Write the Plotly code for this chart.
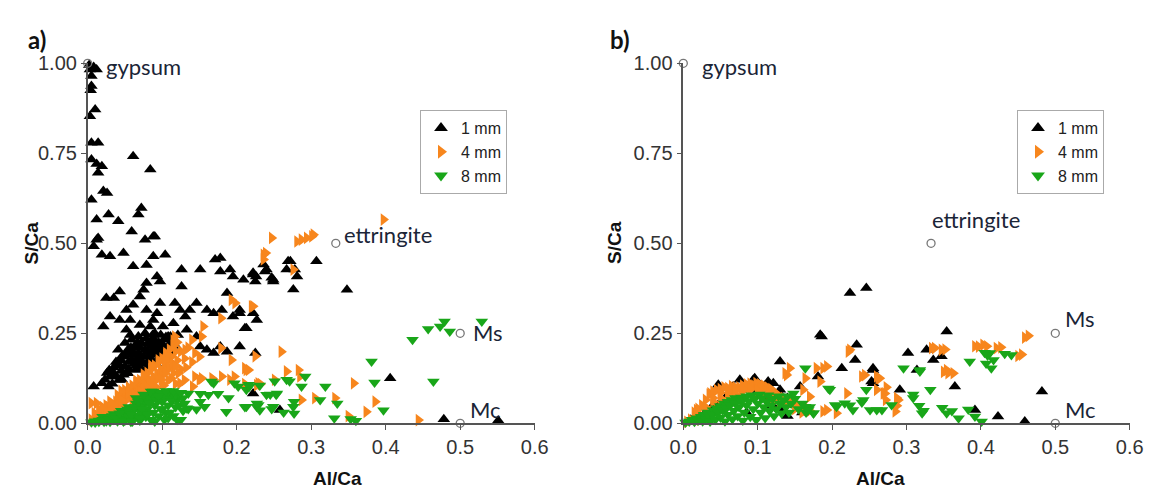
import plotly.graph_objects as go

# ---------------- data: panel a ----------------
A1_X = [0.002,0.008,0.003,0.012,0.005,0.005,0.004,0.010,0.003,0.005,0.014,0.061,0.005,0.019,0.012,0.014,0.084,0.021,0.026,0.005,
        0.012,0.028,0.041,0.068,0.072,0.059,0.012,0.077,0.088,0.008,0.014,0.019,0.030,0.048,0.061,0.079,0.088,0.090,0.093,0.097,
        0.104,0.126,0.126,0.151,0.171,0.178,0.178,0.191,0.195,0.209,0.222,0.226,0.240,0.249,0.269,0.267,0.276,
        0.025,0.035,0.043,0.052,0.061,0.075,0.079,0.070,0.079,0.088,0.093,0.097,0.101,0.021,0.030,0.043,0.057,0.070,0.084,0.052,
        0.117,0.124,0.131,0.137,0.146,0.160,0.169,0.180,0.187,0.195,0.204,0.213,0.222,0.227,0.204,0.187,0.178,0.160,0.169,0.151,
        0.133,0.146,0.115,0.111,
        0.023,0.029,0.041,0.046,0.050,0.054,0.059,0.064,0.068,0.072,0.077,0.081,0.086,0.090,0.095,0.099,0.104,0.108,0.064,0.072,
        0.081,0.037,0.046,0.054,0.086,0.099,0.068,0.059,0.050,0.041,0.028,0.019,0.008,0.077,0.090,0.108,0.113,
        0.060,0.070,0.080,0.090,0.100,0.055,0.065,0.075,0.085,0.095,0.045,0.035,0.030,0.105,0.112,
        0.035,0.040,0.045,0.050,0.055,0.060,0.065,0.070,0.075,0.080,0.085,0.090,0.095,0.100,0.105,0.110,0.038,0.048,0.058,0.068,
        0.078,0.088,0.098,0.108,0.042,0.052,0.062,0.072,0.082,0.092,0.102,0.033,0.026,0.057,0.067,0.087,0.097,0.115,0.118,0.121,
        0.222,0.225,0.236,0.238,0.247,0.249,0.272,0.278,0.281,0.307,0.348,0.204,0.211,0.225,0.222,0.258,0.406,0.478,0.551]
A1_Y = [0.995,0.990,0.983,0.983,0.965,0.937,0.925,0.872,0.853,0.779,0.779,0.742,0.733,0.714,0.720,0.696,0.705,0.645,0.640,0.621,
        0.566,0.580,0.561,0.580,0.598,0.533,0.510,0.510,0.519,0.492,0.515,0.468,0.464,0.473,0.436,0.440,0.464,0.519,0.408,0.394,
        0.468,0.427,0.380,0.427,0.455,0.459,0.422,0.427,0.408,0.399,0.418,0.408,0.427,0.399,0.450,0.427,0.372,
        0.348,0.348,0.366,0.315,0.329,0.371,0.390,0.352,0.315,0.287,0.306,0.334,0.269,0.269,0.297,0.287,0.287,0.273,0.269,0.260,
        0.334,0.315,0.297,0.315,0.334,0.315,0.306,0.315,0.362,0.297,0.315,0.264,0.306,0.287,0.213,0.199,0.213,0.204,0.195,0.213,
        0.260,0.241,0.278,0.241,
        0.121,0.148,0.167,0.186,0.158,0.204,0.176,0.213,0.195,0.223,0.204,0.186,0.232,0.213,0.204,0.223,0.232,0.213,0.148,0.167,
        0.158,0.130,0.121,0.139,0.176,0.186,0.241,0.232,0.223,0.204,0.102,0.111,0.102,0.250,0.250,0.241,0.227,
        0.190,0.180,0.200,0.190,0.200,0.170,0.160,0.185,0.215,0.225,0.145,0.155,0.130,0.195,0.205,
        0.140,0.160,0.175,0.185,0.150,0.200,0.175,0.210,0.165,0.220,0.195,0.230,0.180,0.215,0.240,0.220,0.170,0.135,0.210,0.190,
        0.235,0.205,0.245,0.200,0.120,0.195,0.165,0.150,0.175,0.165,0.180,0.110,0.140,0.245,0.225,0.245,0.195,0.235,0.215,0.245,
        0.413,0.394,0.441,0.422,0.404,0.394,0.450,0.427,0.408,0.450,0.371,0.306,0.264,0.195,0.083,0.037,0.125,0.011,0.008]

A4_X = [0.005,0.010,0.012,0.015,0.018,0.020,0.022,0.025,0.028,0.030,0.030,0.033,0.035,0.038,0.040,0.040,0.043,0.045,0.048,0.050,
        0.050,0.053,0.055,0.058,0.060,0.060,0.063,0.065,0.068,0.070,0.070,0.073,0.075,0.078,0.080,0.080,0.083,0.085,0.088,0.090,
        0.090,0.093,0.095,0.098,0.100,0.100,0.103,0.105,0.108,0.110,0.112,0.115,0.118,0.120,0.115,0.025,0.015,0.012,0.009,0.005,
        0.020,0.025,0.030,0.035,0.040,0.045,0.050,0.055,0.060,0.065,0.070,0.075,0.080,0.085,0.090,0.095,0.100,0.105,0.110,0.115,
        0.120,0.125,0.130,0.135,0.140,0.150,0.125,0.130,0.045,0.055,0.065,0.075,0.085,0.095,0.105,0.115,0.062,0.072,0.082,0.092,
        0.102,0.112,0.122,0.132,0.108,0.118,
        0.193,0.198,0.179,0.220,0.117,0.140,0.153,0.155,0.131,0.144,0.113,0.104,0.117,0.179,0.193,0.211,0.225,0.229,0.144,0.153,
        0.167,0.180,0.104,0.099,0.247,0.281,0.287,0.294,0.301,0.397,0.236,0.239,0.236,0.276,0.222,0.260,0.216,0.232,0.211,0.283,
        0.285,0.251,0.357,0.287,0.305,0.332,0.374,0.386,0.350,0.444,0.124,0.141,0.150,0.169,0.191,0.197,0.213,0.227,0.267,0.303]
A4_Y = [0.010,0.015,0.022,0.012,0.030,0.020,0.038,0.028,0.045,0.035,0.022,0.055,0.042,0.060,0.050,0.035,0.068,0.055,0.075,0.062,
        0.045,0.080,0.070,0.088,0.075,0.058,0.095,0.082,0.100,0.090,0.070,0.108,0.095,0.115,0.102,0.085,0.122,0.110,0.130,0.118,
        0.095,0.140,0.125,0.150,0.135,0.110,0.160,0.145,0.175,0.155,0.185,0.165,0.200,0.175,0.140,0.050,0.040,0.056,0.028,0.056,
        0.045,0.032,0.060,0.050,0.078,0.065,0.092,0.085,0.105,0.112,0.120,0.128,0.140,0.150,0.160,0.170,0.180,0.195,0.205,0.215,
        0.225,0.200,0.180,0.210,0.170,0.185,0.150,0.120,0.090,0.100,0.118,0.135,0.160,0.175,0.190,0.230,0.080,0.085,0.095,0.100,
        0.105,0.125,0.140,0.155,0.120,0.110,
        0.343,0.334,0.292,0.325,0.241,0.232,0.241,0.269,0.204,0.195,0.167,0.176,0.158,0.209,0.176,0.153,0.186,0.111,0.130,0.125,
        0.125,0.130,0.139,0.121,0.515,0.505,0.510,0.515,0.519,0.566,0.468,0.473,0.455,0.427,0.325,0.199,0.148,0.109,0.109,0.148,
        0.130,0.121,0.111,0.065,0.070,0.070,0.032,0.060,0.020,0.009,0.111,0.102,0.121,0.121,0.121,0.130,0.148,0.106,0.144,0.524]

A8_X = [0.005,0.010,0.015,0.020,0.025,0.030,0.030,0.035,0.040,0.040,0.045,0.050,0.050,0.055,0.060,0.060,0.065,0.068,0.070,0.072,
        0.075,0.078,0.080,0.082,0.085,0.088,0.090,0.092,0.095,0.098,0.100,0.100,0.103,0.105,0.108,0.110,0.112,0.115,0.118,0.120,
        0.122,0.125,0.128,0.045,0.055,0.065,0.075,0.085,0.095,0.088,0.020,0.035,0.058,0.070,0.108,
        0.010,0.015,0.022,0.028,0.033,0.038,0.043,0.048,0.053,0.058,0.063,0.068,0.073,0.078,0.083,0.088,0.093,0.098,0.103,0.108,
        0.113,0.118,0.123,0.128,0.060,0.070,0.080,0.090,0.100,0.110,0.120,0.130,0.065,0.075,0.085,0.095,0.105,0.115,0.125,0.135,
        0.133,0.146,0.151,0.162,0.169,0.186,0.197,0.213,0.227,0.240,0.253,0.267,0.249,0.276,0.213,0.166,0.202,0.216,0.151,0.175,
        0.189,0.157,0.229,0.135,0.217,0.231,0.251,0.271,0.292,0.287,0.319,0.254,0.245,0.277,0.211,0.227,0.231,0.247,0.263,0.277,
        0.312,0.335,0.331,0.353,0.360,0.381,0.385,0.397,0.464,0.436,0.457,0.473,0.479,0.486,0.529]
A8_Y = [0.003,0.006,0.004,0.010,0.006,0.015,0.004,0.010,0.020,0.006,0.014,0.026,0.008,0.018,0.032,0.010,0.022,0.040,0.008,0.030,
        0.050,0.018,0.040,0.060,0.010,0.030,0.050,0.070,0.020,0.040,0.060,0.080,0.010,0.030,0.050,0.070,0.085,0.020,0.045,0.065,
        0.080,0.010,0.035,0.035,0.045,0.055,0.065,0.075,0.085,0.088,0.018,0.026,0.004,0.045,0.015,
        0.002,0.008,0.004,0.012,0.020,0.015,0.028,0.005,0.038,0.025,0.045,0.060,0.040,0.070,0.055,0.078,0.065,0.085,0.072,0.088,
        0.062,0.080,0.050,0.070,0.005,0.015,0.025,0.005,0.040,0.030,0.010,0.055,0.070,0.080,0.088,0.075,0.090,0.090,0.085,0.040,
        0.042,0.039,0.060,0.079,0.111,0.032,0.111,0.093,0.046,0.079,0.079,0.121,0.046,0.046,0.046,0.116,0.102,0.107,0.082,0.082,
        0.070,0.046,0.051,0.083,0.102,0.105,0.117,0.117,0.130,0.102,0.102,0.083,0.080,0.060,0.045,0.055,0.036,0.040,0.030,0.027,
        0.065,0.055,0.014,0.012,0.007,0.172,0.113,0.036,0.116,0.232,0.262,0.269,0.283,0.255,0.283]

# ---------------- data: panel b ----------------
B1_X = [0.047,0.076,0.096,0.114,0.121,0.130,0.184,0.186,0.224,0.246,0.233,0.213,0.231,0.255,0.181,0.157,0.253,0.302,0.327,0.336,
        0.347,0.354,0.365,0.291,0.314,0.392,0.423,0.459,0.482,0.130,0.143,0.067,0.094,0.255,0.255,
        0.110,0.120,0.130,0.140,0.110,0.120,0.130,0.150,0.100,0.090,0.060,0.050,0.040,0.030,0.020,0.010,0.160,0.140,0.085]
B1_Y = [0.107,0.121,0.125,0.116,0.111,0.172,0.246,0.241,0.362,0.376,0.218,0.153,0.176,0.153,0.130,0.102,0.116,0.195,0.204,0.176,
        0.186,0.255,0.102,0.093,0.148,0.037,0.019,0.005,0.088,0.093,0.065,0.102,0.121,0.148,0.111,
        0.105,0.090,0.080,0.070,0.070,0.050,0.040,0.050,0.090,0.100,0.080,0.060,0.050,0.030,0.020,0.010,0.030,0.020,0.030]

B4_X = [0.005,0.010,0.015,0.018,0.020,0.022,0.025,0.030,0.030,0.035,0.036,0.040,0.045,0.045,0.050,0.052,0.055,0.058,0.060,0.063,
        0.065,0.068,0.070,0.072,0.075,0.078,0.080,0.083,0.085,0.088,0.090,0.093,0.095,0.098,0.100,0.103,0.105,0.108,0.110,0.113,
        0.115,0.118,0.120,0.123,0.125,0.128,0.130,0.135,0.140,0.145,0.150,0.155,0.160,0.165,0.170,0.025,0.040,0.050,0.060,0.070,
        0.030,0.040,0.050,0.060,0.070,0.080,0.090,0.100,0.110,0.120,0.130,0.140,0.150,
        0.139,0.164,0.188,0.224,0.240,0.260,0.262,0.273,0.287,0.285,0.188,0.170,0.206,0.184,0.161,0.260,0.338,0.347,0.350,0.354,
        0.392,0.403,0.421,0.459,0.450,0.334,0.352,0.356,0.363,0.397,0.408,0.427,0.464,0.455,0.244,0.264,0.271,0.289,0.287,
        0.137,0.143,0.179,0.193,0.222,0.220,0.193,0.269,0.272]
B4_Y = [0.004,0.010,0.030,0.037,0.040,0.010,0.050,0.065,0.018,0.080,0.083,0.088,0.092,0.035,0.095,0.045,0.100,0.052,0.098,0.085,
        0.103,0.092,0.100,0.075,0.100,0.088,0.105,0.095,0.108,0.100,0.110,0.098,0.105,0.112,0.100,0.108,0.095,0.105,0.090,0.100,
        0.085,0.095,0.075,0.085,0.065,0.078,0.055,0.070,0.050,0.060,0.040,0.050,0.030,0.045,0.035,0.020,0.060,0.070,0.065,0.080,
        0.045,0.070,0.085,0.088,0.090,0.095,0.095,0.090,0.080,0.070,0.065,0.060,0.055,
        0.134,0.125,0.153,0.204,0.130,0.130,0.125,0.100,0.070,0.033,0.033,0.074,0.028,0.116,0.093,0.093,0.209,0.204,0.143,0.148,
        0.214,0.218,0.209,0.238,0.187,0.209,0.205,0.139,0.139,0.213,0.214,0.211,0.243,0.191,0.134,0.125,0.083,0.065,0.049,
        0.139,0.153,0.153,0.158,0.199,0.083,0.037,0.083,0.065]

B8_X = [0.003,0.008,0.012,0.015,0.018,0.020,0.024,0.026,0.028,0.030,0.033,0.035,0.036,0.040,0.040,0.043,0.045,0.047,0.050,0.050,
        0.053,0.055,0.056,0.058,0.060,0.060,0.063,0.065,0.066,0.068,0.070,0.070,0.073,0.075,0.078,0.078,0.080,0.082,0.085,0.085,
        0.088,0.090,0.092,0.094,0.096,0.098,0.100,0.102,0.104,0.106,0.108,0.110,0.112,0.114,0.116,0.118,0.120,0.122,0.125,0.128,
        0.130,0.132,0.135,0.138,0.140,0.142,0.145,0.150,0.155,0.160,0.165,0.170,0.148,
        0.164,0.195,0.197,0.204,0.217,0.228,0.240,0.246,0.251,0.267,0.280,0.296,0.309,0.318,0.332,0.321,0.354,0.370,0.385,0.392,
        0.401,0.412,0.417,0.414,0.441,0.164,0.175,0.318,0.309,0.317,0.323,0.348,0.361,0.383,0.405,0.409,0.407,0.432,
        0.175,0.168,0.206,0.224,0.242,0.260]
B8_Y = [0.002,0.005,0.010,0.004,0.014,0.008,0.018,0.006,0.024,0.012,0.030,0.018,0.005,0.036,0.024,0.010,0.042,0.030,0.048,0.016,
        0.036,0.055,0.006,0.042,0.060,0.024,0.050,0.065,0.012,0.035,0.070,0.055,0.020,0.045,0.072,0.060,0.008,0.030,0.075,0.050,
        0.062,0.018,0.078,0.040,0.068,0.010,0.055,0.080,0.030,0.070,0.045,0.015,0.060,0.078,0.035,0.050,0.068,0.020,0.040,0.075,
        0.055,0.028,0.065,0.045,0.075,0.030,0.055,0.068,0.040,0.055,0.030,0.045,0.083,
        0.153,0.097,0.093,0.051,0.056,0.037,0.058,0.093,0.037,0.037,0.051,0.153,0.070,0.148,0.093,0.028,0.028,0.014,0.172,0.019,
        0.005,0.195,0.176,0.153,0.190,0.046,0.028,0.144,0.080,0.049,0.035,0.043,0.034,0.038,0.196,0.188,0.166,0.193,
        0.028,0.037,0.046,0.050,0.065,0.037]

REF_X = [0.0, 0.333, 0.5, 0.5]
REF_Y = [1.0, 0.5, 0.25, 0.0]
SERIES = ["1 mm", "4 mm", "8 mm"]

BLACK = "#000000"
ORANGE = "#f7861d"
GREEN = "#19a619"
MSIZE = 11

fig = go.Figure()

def add_panel(xa, ya, leg, data):
    syms = ["triangle-up", "triangle-right", "triangle-down"]
    cols = [BLACK, ORANGE, GREEN]
    for (xs, ys), name, sym, col in zip(data, SERIES, syms, cols):
        fig.add_trace(go.Scatter(
            x=xs, y=ys, mode="markers", name=name, legend=leg,
            xaxis=xa, yaxis=ya, cliponaxis=False,
            marker=dict(symbol=sym, size=MSIZE, color=col, line=dict(width=0))))
    fig.add_trace(go.Scatter(
        x=REF_X, y=REF_Y, mode="markers", showlegend=False, xaxis=xa, yaxis=ya,
        cliponaxis=False,
        marker=dict(symbol="circle-open", size=8, color="#777777", line=dict(width=1.3))))

add_panel("x", "y", "legend", [(A1_X, A1_Y), (A4_X, A4_Y), (A8_X, A8_Y)])
add_panel("x2", "y2", "legend2", [(B1_X, B1_Y), (B4_X, B4_Y), (B8_X, B8_Y)])

axis_common = dict(showgrid=False, zeroline=False, showline=True, linecolor="#555555",
                   linewidth=1.5, ticks="outside", ticklen=5, tickwidth=1.3, tickcolor="#555555",
                   tickfont=dict(family="Arial, Liberation Sans", size=20, color="#333333"),
                   fixedrange=True, automargin=False)

W, H = 1150, 493
ybot, ytop = 423.3, 63.3
fig.update_layout(
    width=W, height=H, margin=dict(l=0, r=0, t=0, b=0),
    paper_bgcolor="white", plot_bgcolor="white",
    xaxis=dict(domain=[87.7 / W, 534.7 / W], range=[0, 0.6], dtick=0.1, tickformat=".1f",
               anchor="y", **axis_common),
    yaxis=dict(domain=[1 - ybot / H, 1 - ytop / H], range=[0, 1.0], dtick=0.25, tickformat=".2f",
               anchor="x", **axis_common),
    xaxis2=dict(domain=[683.3 / W, 1129.7 / W], range=[0, 0.6], dtick=0.1, tickformat=".1f",
                anchor="y2", **axis_common),
    yaxis2=dict(domain=[1 - ybot / H, 1 - ytop / H], range=[0, 1.0], dtick=0.25, tickformat=".2f",
                anchor="x2", **axis_common),
    legend=dict(x=420 / W, y=1 - 110 / H, xanchor="left", yanchor="top",
                bgcolor="white", bordercolor="#aaaaaa", borderwidth=1,
                font=dict(family="Arial, Liberation Sans", size=16, color="#222"),
                tracegroupgap=0, itemsizing="constant"),
    legend2=dict(x=1017 / W, y=1 - 110 / H, xanchor="left", yanchor="top",
                 bgcolor="white", bordercolor="#aaaaaa", borderwidth=1,
                 font=dict(family="Arial, Liberation Sans", size=16, color="#222"),
                 tracegroupgap=0, itemsizing="constant"),
)

lab_font = dict(family="Lato, Open Sans", size=22, color="#1b2537")
ann = []
for xr, yr, a in [("x", "y", True), ("x2", "y2", False)]:
    ann += [
        dict(x=0.022, y=0.99, xref=xr, yref=yr, text="gypsum", showarrow=False,
             xanchor="left", yanchor="middle", font=lab_font),
        dict(x=0.341 if a else 0.331, y=0.524 if a else 0.566, xref=xr, yref=yr, text="ettringite",
             showarrow=False, xanchor="left", yanchor="middle", font=lab_font),
        dict(x=0.515 if a else 0.510, y=0.251 if a else 0.292, xref=xr, yref=yr, text="Ms",
             showarrow=False, xanchor="left", yanchor="middle", font=lab_font),
        dict(x=0.51, y=0.037, xref=xr, yref=yr, text="Mc",
             showarrow=False, xanchor="left", yanchor="middle", font=lab_font),
    ]
title_font = dict(family="Arial, Liberation Sans", size=19, color="#111")
ann += [
    dict(x=18 / W, y=1 - 243 / H, xref="paper", yref="paper", text="<b>S/Ca</b>", textangle=-90,
         showarrow=False, font=title_font),
    dict(x=614 / W, y=1 - 243 / H, xref="paper", yref="paper", text="<b>S/Ca</b>", textangle=-90,
         showarrow=False, font=title_font),
    dict(x=311 / W, y=1 - 491 / H, xref="paper", yref="paper", text="<b>Al/Ca</b>",
         yanchor="bottom", showarrow=False, font=title_font),
    dict(x=907 / W, y=1 - 491 / H, xref="paper", yref="paper", text="<b>Al/Ca</b>",
         yanchor="bottom", showarrow=False, font=title_font),
    dict(x=26 / W, y=1 - 23 / H, xref="paper", yref="paper", text="<b>a)</b>",
         showarrow=False, font=dict(family="Lato, Open Sans", size=24, color="#111")),
    dict(x=620 / W, y=1 - 23 / H, xref="paper", yref="paper", text="<b>b)</b>",
         showarrow=False, font=dict(family="Lato, Open Sans", size=24, color="#111")),
]
fig.update_layout(annotations=ann)

fig.write_html("out.html", config={"displayModeBar": False},
               post_script="document.body.style.margin='0px';document.body.style.overflow='hidden';")
